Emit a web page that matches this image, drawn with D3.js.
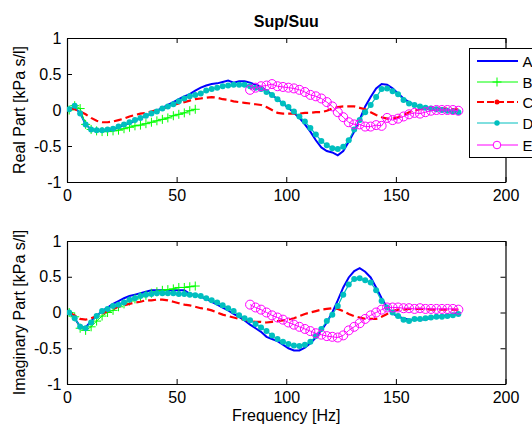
<!DOCTYPE html>
<html><head><meta charset="utf-8">
<script src="https://cdn.jsdelivr.net/npm/d3@7"></script>
<style>
html,body{margin:0;padding:0;background:#fff;}
svg{display:block;}
text{font-family:"Liberation Sans",Arial,Helvetica,sans-serif;}
</style></head>
<body>
<svg id="chart" width="532" height="427"></svg>
<script>
const freq = [1,3.5,6,8.5,11,13.5,16,18.5,21,23.5,
26,28.5,31,33.5,36,38.5,41,43.5,46,48.5,
51,53.5,56,58.5,61,63.5,66,68.5,71,73.5,
76,78.5,81,83.5,86,88.5,91,93.5,96,98.5,
101,103.5,106,108.5,111,113.5,116,118.5,121,123.5,
126,128.5,131,133.5,136,138.5,141,143.5,146,148.5,
151,153.5,156,158.5,161,163.5,166,168.5,171,173.5,
176,178.5];

const seriesNames = ["A","B","C","D","E"];
const xTicks = [0,50,100,150,200];
const yTicks = [-1,-0.5,0,0.5,1];
const yTickLabels = ["-1","-0.5","0","0.5","1"];

const realA = [0.0,0.03,-0.04,-0.2,-0.27,-0.29,-0.29,-0.28,-0.27,-0.24,
-0.21,-0.18,-0.15,-0.11,-0.08,-0.05,-0.01,0.03,0.07,0.11,
0.15,0.19,0.22,0.27,0.31,0.34,0.36,0.37,0.39,0.41,
0.38,0.40,0.40,0.38,0.35,0.32,0.27,0.21,0.15,0.09,
0.03,-0.04,-0.11,-0.2,-0.3,-0.42,-0.52,-0.57,-0.59,-0.63,
-0.57,-0.44,-0.3,-0.13,0.05,0.18,0.3,0.36,0.35,0.3,
0.23,0.16,0.11,0.07,0.04,0.02,0.01,0.0,0.0,-0.01,
-0.02,-0.02];
const realB = [0.0,0.06,0.02,-0.2,-0.27,-0.29,-0.3,-0.3,-0.29,-0.28,
-0.26,-0.24,-0.22,-0.21,-0.19,-0.17,-0.15,-0.13,-0.11,-0.08,
-0.06,-0.04,-0.01,0.01];
const realC = [0.02,0.01,-0.02,-0.06,-0.11,-0.15,-0.17,-0.17,-0.16,-0.14,
-0.12,-0.09,-0.07,-0.05,-0.04,-0.02,0.0,0.02,0.04,0.07,
0.09,0.11,0.13,0.15,0.16,0.17,0.18,0.17,0.15,0.14,
0.12,0.11,0.10,0.09,0.08,0.07,0.04,0.0,-0.04,-0.05,
-0.05,-0.05,-0.05,-0.04,-0.04,-0.03,-0.03,-0.01,0.02,0.04,
0.05,0.05,0.05,0.03,0.01,-0.03,-0.07,-0.1,-0.12,-0.12,
-0.1,-0.07,-0.03,-0.01,0.01,0.02,0.02,0.02,0.02,0.02,
0.01,0.01];
const realD = [0.01,0.06,-0.05,-0.2,-0.27,-0.28,-0.28,-0.27,-0.26,-0.23,
-0.2,-0.17,-0.14,-0.11,-0.08,-0.05,-0.02,0.02,0.05,0.08,
0.12,0.16,0.19,0.21,0.23,0.27,0.29,0.31,0.33,0.34,
0.35,0.35,0.35,0.33,0.31,0.29,0.25,0.21,0.15,0.09,
0.04,-0.02,-0.09,-0.16,-0.25,-0.34,-0.43,-0.49,-0.53,-0.54,
-0.51,-0.42,-0.27,-0.14,-0.03,0.07,0.18,0.29,0.30,0.26,
0.22,0.14,0.09,0.07,0.05,0.03,0.02,0.01,0.0,-0.01,
-0.02,-0.03];
const realE = [0.28,0.31,0.33,0.34,0.36,0.33,0.32,0.31,0.3,0.28,
0.25,0.21,0.19,0.16,0.11,0.05,-0.03,-0.1,-0.17,-0.2,
-0.2,-0.23,-0.23,-0.21,-0.22,-0.11,-0.14,-0.12,-0.09,-0.06,
-0.04,-0.05,-0.03,-0.01,0.0,0.0,0.0,0.0,-0.01];

const imagA = [0.0,-0.08,-0.2,-0.21,-0.12,-0.05,0.02,0.07,0.12,0.16,
0.2,0.23,0.25,0.27,0.29,0.31,0.31,0.31,0.31,0.31,
0.31,0.31,0.26,0.24,0.22,0.19,0.15,0.11,0.07,0.03,
-0.02,-0.06,-0.11,-0.17,-0.22,-0.27,-0.34,-0.37,-0.4,-0.45,
-0.5,-0.53,-0.53,-0.49,-0.43,-0.35,-0.25,-0.14,0.0,0.17,
0.35,0.49,0.58,0.62,0.57,0.49,0.35,0.2,0.07,-0.01,
-0.06,-0.08,-0.1,-0.1,-0.09,-0.1,-0.07,-0.06,-0.05,-0.04,
-0.03,-0.01];
const imagB = [0.0,-0.06,-0.22,-0.25,-0.2,-0.12,-0.05,0.0,0.03,0.08,
0.12,0.16,0.19,0.22,0.24,0.27,0.29,0.31,0.32,0.33,
0.35,0.35,0.36,0.37];
const imagC = [0.0,-0.04,-0.09,-0.1,-0.08,-0.05,-0.02,0.02,0.05,0.08,
0.1,0.12,0.14,0.15,0.17,0.17,0.18,0.18,0.17,0.15,
0.13,0.11,0.1,0.08,0.06,0.05,0.03,0.0,-0.03,-0.05,
-0.07,-0.09,-0.1,-0.12,-0.13,-0.13,-0.14,-0.13,-0.12,-0.11,
-0.1,-0.08,-0.05,-0.02,0.0,0.02,0.04,0.05,0.06,0.05,
0.02,-0.02,-0.05,-0.07,-0.09,-0.09,-0.09,-0.06,-0.02,0.02,
0.04,0.04,0.05,0.05,0.05,0.05,0.04,0.04,0.04,0.04,
0.04,0.04];
const imagD = [0.0,-0.08,-0.2,-0.22,-0.14,-0.05,0.02,0.05,0.09,0.11,
0.14,0.18,0.2,0.23,0.25,0.26,0.27,0.27,0.27,0.27,
0.26,0.26,0.25,0.24,0.23,0.2,0.17,0.14,0.1,0.06,
0.02,-0.04,-0.08,-0.11,-0.16,-0.21,-0.26,-0.32,-0.37,-0.41,
-0.44,-0.46,-0.47,-0.45,-0.41,-0.33,-0.23,-0.12,-0.03,0.09,
0.25,0.39,0.47,0.48,0.45,0.42,0.31,0.16,0.07,0.0,
-0.05,-0.1,-0.12,-0.09,-0.09,-0.08,-0.07,-0.06,-0.06,-0.05,
-0.04,-0.02];
const imagE = [0.11,0.07,0.04,0.0,-0.04,-0.07,-0.1,-0.14,-0.17,-0.2,
-0.23,-0.26,-0.29,-0.31,-0.33,-0.34,-0.35,-0.32,-0.25,-0.2,
-0.15,-0.09,-0.04,0.0,0.04,0.07,0.07,0.07,0.06,0.06,
0.05,0.06,0.05,0.05,0.05,0.05,0.05,0.05,0.04];

const FONT = 16;
const LFONT = 15;
const svg = d3.select("#chart");
const colors = {A:"#0000ff", B:"#00ff00", C:"#ff0000", D:"#00bfbf", E:"#ff00ff"};

const x = d3.scaleLinear().domain([0,200]).range([67,505.5]);

function pairs(vals, fromEnd){
  const f = fromEnd ? freq.slice(freq.length - vals.length) : freq.slice(0, vals.length);
  return vals.map((v,i)=>[f[i], v]);
}

function panel(top, bottom, ylabel, data){
  const y = d3.scaleLinear().domain([-1,1]).range([bottom, top]);
  const g = svg.append("g");
  const clipId = "clip" + top;
  svg.append("clipPath").attr("id", clipId).append("rect")
    .attr("x", x(0)).attr("y", top).attr("width", x(200)-x(0)).attr("height", bottom-top);

  const ax = g.append("g").attr("transform",`translate(0,${bottom})`)
    .call(d3.axisBottom(x).tickValues(xTicks).tickSizeInner(-5).tickSizeOuter(0).tickPadding(8));
  const axT = g.append("g").attr("transform",`translate(0,${top})`)
    .call(d3.axisTop(x).tickValues(xTicks).tickSizeInner(-5).tickSizeOuter(0).tickFormat(""));
  const ay = g.append("g").attr("transform",`translate(${x(0)},0)`)
    .call(d3.axisLeft(y).tickValues(yTicks).tickSizeInner(-5).tickSizeOuter(0).tickPadding(5.5)
      .tickFormat((d,i)=>yTickLabels[i]));
  const ayR = g.append("g").attr("transform",`translate(${x(200)},0)`)
    .call(d3.axisRight(y).tickValues(yTicks).tickSizeInner(-5).tickSizeOuter(0).tickFormat(""));
  [ax,axT,ay,ayR].forEach(a=>{
    a.selectAll(".domain").attr("stroke","#000").attr("stroke-width",1.2);
    a.selectAll(".tick line").attr("stroke","#000").attr("stroke-width",1);
    a.selectAll("text").attr("font-size",FONT).attr("fill","#000")
      .style("font-family",'"Liberation Sans",Arial,sans-serif');
  });

  svg.append("text").attr("transform",`translate(25,${(top+bottom)/2}) rotate(-90)`)
    .attr("text-anchor","middle").attr("font-size",FONT).attr("fill","#000").text(ylabel);

  const plot = svg.append("g").attr("clip-path",`url(#${clipId})`);
  const line = d3.line().x(d=>x(d[0])).y(d=>y(d[1]));

  plot.append("path").datum(pairs(data.A)).attr("d",line).attr("fill","none")
    .attr("stroke",colors.A).attr("stroke-width",2);
  const bP = pairs(data.B);
  plot.append("path").datum(bP).attr("d",line).attr("fill","none")
    .attr("stroke",colors.B).attr("stroke-width",1);
  plot.selectAll(".bm").data(bP).enter().append("path")
    .attr("d",d=>`M${x(d[0])-4.5},${y(d[1])}h9M${x(d[0])},${y(d[1])-4.5}v9`)
    .attr("stroke",colors.B).attr("stroke-width",1);
  plot.append("path").datum(pairs(data.C)).attr("d",line).attr("fill","none")
    .attr("stroke",colors.C).attr("stroke-width",2.2).attr("stroke-dasharray","8,4");
  const dP = pairs(data.D);
  plot.append("path").datum(dP).attr("d",line).attr("fill","none")
    .attr("stroke",colors.D).attr("stroke-width",1.2);
  plot.selectAll(".dm").data(dP).enter().append("circle")
    .attr("cx",d=>x(d[0])).attr("cy",d=>y(d[1])).attr("r",3).attr("fill",colors.D);
  const eP = pairs(data.E, true);
  plot.append("path").datum(eP).attr("d",line).attr("fill","none")
    .attr("stroke",colors.E).attr("stroke-width",1);
  plot.selectAll(".em").data(eP).enter().append("circle")
    .attr("cx",d=>x(d[0])).attr("cy",d=>y(d[1])).attr("r",4.5)
    .attr("fill","none").attr("stroke",colors.E).attr("stroke-width",1);
  return y;
}

panel(38, 182, "Real Part [kPa s/l]", {A:realA,B:realB,C:realC,D:realD,E:realE});
panel(241, 384, "Imaginary Part [kPa s/l]", {A:imagA,B:imagB,C:imagC,D:imagD,E:imagE});

svg.append("text").attr("x",(x(0)+x(200))/2).attr("y",27).attr("text-anchor","middle")
  .attr("font-size",FONT).attr("font-weight","bold").attr("fill","#000").text("Sup/Suu");
svg.append("text").attr("x",(x(0)+x(200))/2).attr("y",421).attr("text-anchor","middle")
  .attr("font-size",FONT).attr("fill","#000").text("Frequency [Hz]");

const lg = svg.append("g");
lg.append("rect").attr("x",469.5).attr("y",48.5).attr("width",80).attr("height",109)
  .attr("fill","#fff").attr("stroke","#000").attr("stroke-width",1);
const ly = [61,82,102,123,145];
seriesNames.forEach((n,i)=>{
  const yy = ly[i];
  const l = lg.append("line").attr("x1",477).attr("x2",518).attr("y1",yy).attr("y2",yy)
    .attr("stroke",colors[n]).attr("stroke-width", n==="A"?2:(n==="C"?2.2:1));
  if(n==="C") l.attr("stroke-dasharray","7,3");
  if(n==="B") lg.append("path").attr("d",`M492.5,${yy}h9M497,${yy-4.5}v9`).attr("stroke",colors.B);
  if(n==="C") lg.append("circle").attr("cx",497).attr("cy",yy).attr("r",2.5).attr("fill",colors.C);
  if(n==="D") lg.append("circle").attr("cx",497).attr("cy",yy).attr("r",2.7).attr("fill",colors.D);
  if(n==="E") lg.append("circle").attr("cx",497).attr("cy",yy).attr("r",3.8).attr("fill","#fff")
    .attr("stroke",colors.E);
  lg.append("text").attr("x",522.5).attr("y",yy+6).attr("font-size",LFONT).attr("fill","#000").text(n);
});
</script>
</body></html>
